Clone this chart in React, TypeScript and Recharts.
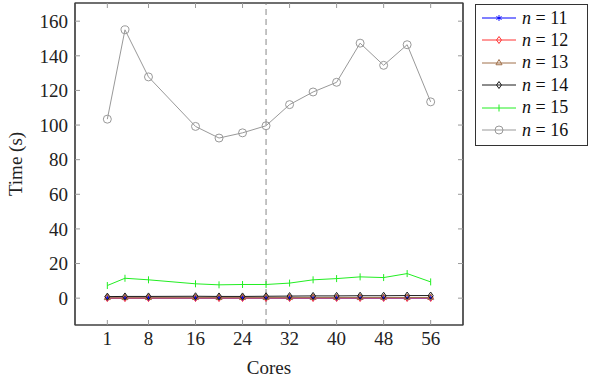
import { LineChart, Line, XAxis, YAxis, ReferenceLine, ReferenceArea } from 'recharts';

const CORES = [1, 4, 8, 16, 20, 24, 28, 32, 36, 40, 44, 48, 52, 56];
const X_TICKS = [1, 8, 16, 24, 32, 40, 48, 56];
const Y_TICKS = [0, 20, 40, 60, 80, 100, 120, 140, 160];

const N11 = [0.01, 0.01, 0.01, 0.02, 0.02, 0.02, 0.02, 0.02, 0.02, 0.03, 0.03, 0.03, 0.03, 0.03];
const N12 = [0.05, 0.05, 0.06, 0.07, 0.07, 0.07, 0.08, 0.08, 0.09, 0.09, 0.1, 0.1, 0.1, 0.11];
const N13 = [0.2, 0.22, 0.23, 0.25, 0.25, 0.26, 0.27, 0.28, 0.3, 0.31, 0.32, 0.33, 0.34, 0.35];
const N14 = [0.9, 1.0, 1.0, 1.1, 1.0, 1.0, 1.1, 1.2, 1.3, 1.3, 1.4, 1.4, 1.5, 1.5];
const N15 = [7.3, 11.5, 10.6, 8.3, 7.7, 7.9, 7.9, 8.7, 10.6, 11.3, 12.3, 11.9, 14.2, 9.4];
const N16 = [103.4, 155, 127.8, 99.2, 92.5, 95.5, 99.6, 111.8, 119.1, 124.7, 147.3, 134.5, 146.4, 113.4];

const X_DOMAIN = [-4.5, 61.5];
const Y_DOMAIN = [-15.5, 170.5];

type Shape = 'star' | 'diamond' | 'triangle' | 'bar' | 'circle';

const SERIES: { key: string; n: string; color: string; shape: Shape; values: number[] }[] = [
  { key: 'n11', n: '11', color: '#0000ff', shape: 'star', values: N11 },
  { key: 'n12', n: '12', color: '#ff3333', shape: 'diamond', values: N12 },
  { key: 'n13', n: '13', color: '#a0704a', shape: 'triangle', values: N13 },
  { key: 'n14', n: '14', color: '#1a1a1a', shape: 'diamond', values: N14 },
  { key: 'n15', n: '15', color: '#22ee22', shape: 'bar', values: N15 },
  { key: 'n16', n: '16', color: '#999999', shape: 'circle', values: N16 },
];

const data = CORES.map((c, i) => {
  const row: Record<string, number> = { cores: c };
  SERIES.forEach((s) => (row[s.key] = s.values[i]));
  return row;
});

const FONT = '"Liberation Serif", "DejaVu Serif", serif';
const FRAME = '#404040';
const TICK = '#9a9a9a';

function Marker({ shape, color, cx, cy }: { shape: Shape; color: string; cx: number; cy: number }) {
  switch (shape) {
    case 'star': {
      const r = 3;
      return (
        <g stroke={color} strokeWidth={0.9}>
          <line x1={cx} y1={cy - r} x2={cx} y2={cy + r} />
          <line x1={cx - r * 0.87} y1={cy - r / 2} x2={cx + r * 0.87} y2={cy + r / 2} />
          <line x1={cx - r * 0.87} y1={cy + r / 2} x2={cx + r * 0.87} y2={cy - r / 2} />
        </g>
      );
    }
    case 'diamond': {
      const r = 3.5;
      return (
        <polygon
          points={`${cx},${cy - r} ${cx + r * 0.7},${cy} ${cx},${cy + r} ${cx - r * 0.7},${cy}`}
          fill="none"
          stroke={color}
          strokeWidth={1}
        />
      );
    }
    case 'triangle': {
      const r = 3.5;
      return (
        <polygon
          points={`${cx},${cy - r} ${cx + r * 0.87},${cy + r / 2} ${cx - r * 0.87},${cy + r / 2}`}
          fill="none"
          stroke={color}
          strokeWidth={1}
        />
      );
    }
    case 'bar':
      return <line x1={cx} y1={cy - 3.5} x2={cx} y2={cy + 3.5} stroke={color} strokeWidth={1} />;
    default:
      return <circle cx={cx} cy={cy} r={4} fill="none" stroke={color} strokeWidth={1} />;
  }
}

function makeDot(shape: Shape, color: string) {
  return (props: any) => {
    const { cx, cy, index } = props;
    if (cx == null || cy == null) return <g key={`d-${index}`} />;
    return (
      <g key={`d-${index}`}>
        <Marker shape={shape} color={color} cx={cx} cy={cy} />
      </g>
    );
  };
}

function LegendBox() {
  return (
    <div
      style={{
        position: 'absolute',
        left: 475,
        top: 4,
        width: 113,
        height: 142,
        border: '1px solid #333',
        background: '#fff',
        boxSizing: 'border-box',
        fontFamily: FONT,
        fontSize: 18,
      }}
    >
      {SERIES.map((s, i) => (
        <div
          key={s.key}
          style={{
            position: 'absolute',
            left: 0,
            top: 2 + i * 22.4,
            height: 22,
            display: 'flex',
            alignItems: 'center',
          }}
        >
          <svg width={45} height={22} style={{ display: 'block' }}>
            <line x1={6} y1={11} x2={40} y2={11} stroke={s.color} strokeWidth={1} />
            <Marker shape={s.shape} color={s.color} cx={23} cy={11} />
          </svg>
          <span style={{ marginLeft: 1, whiteSpace: 'pre', color: '#111' }}>
            <i>n</i> = {s.n}
          </span>
        </div>
      ))}
    </div>
  );
}

export default function App() {
  const tickStyle = { fontFamily: FONT, fontSize: 19, fill: '#222' };
  return (
    <div style={{ position: 'absolute', left: 0, top: 0, width: 589, height: 380, background: '#fff' }}>
      <LineChart width={589} height={380} data={data} margin={{ top: 2, right: 125, bottom: 0, left: 0 }}>
        <XAxis
          xAxisId={0}
          dataKey="cores"
          type="number"
          domain={X_DOMAIN}
          ticks={X_TICKS}
          allowDataOverflow
          height={55}
          axisLine={{ stroke: FRAME, strokeWidth: 1.2 }}
          tickLine={{ stroke: TICK }}
          tickSize={-5}
          tickMargin={12}
          tick={tickStyle}
          label={{ value: 'Cores', position: 'insideBottom', offset: 6, style: { fontFamily: FONT, fontSize: 19, fill: '#222' } }}
        />
        <XAxis
          xAxisId="top"
          orientation="top"
          dataKey="cores"
          type="number"
          domain={X_DOMAIN}
          ticks={X_TICKS}
          allowDataOverflow
          height={1}
          axisLine={{ stroke: FRAME, strokeWidth: 1.2 }}
          tickLine={{ stroke: TICK }}
          tickSize={-5}
          tickFormatter={() => ''}
        />
        <YAxis
          yAxisId={0}
          type="number"
          domain={Y_DOMAIN}
          ticks={Y_TICKS}
          allowDataOverflow
          width={75}
          axisLine={{ stroke: FRAME, strokeWidth: 1.2 }}
          tickLine={{ stroke: TICK }}
          tickSize={-5}
          tickMargin={12}
          tick={tickStyle}
          label={{
            value: 'Time (s)',
            angle: -90,
            position: 'insideLeft',
            offset: 15,
            style: { fontFamily: FONT, fontSize: 19, fill: '#222', textAnchor: 'middle' },
          }}
        />
        <YAxis
          yAxisId="right"
          orientation="right"
          type="number"
          domain={Y_DOMAIN}
          ticks={Y_TICKS}
          allowDataOverflow
          width={1}
          axisLine={{ stroke: FRAME, strokeWidth: 1.2 }}
          tickLine={{ stroke: TICK }}
          tickSize={-5}
          tickFormatter={() => ''}
        />
        <ReferenceArea
          xAxisId={0}
          yAxisId={0}
          x1={X_DOMAIN[0]}
          x2={X_DOMAIN[1]}
          y1={Y_DOMAIN[0]}
          y2={Y_DOMAIN[1]}
          fill="none"
          stroke={FRAME}
          strokeWidth={1.2}
          ifOverflow="visible"
        />
        <ReferenceLine x={28} xAxisId={0} yAxisId={0} stroke="#b0b0b0" strokeWidth={1.5} strokeDasharray="6 4" />
        <Line
          xAxisId="top"
          yAxisId="right"
          dataKey="n16"
          stroke="none"
          dot={false}
          activeDot={false}
          legendType="none"
          isAnimationActive={false}
        />
        {SERIES.map((s) => (
          <Line
            key={s.key}
            xAxisId={0}
            yAxisId={0}
            dataKey={s.key}
            type="linear"
            stroke={s.color}
            strokeWidth={1}
            dot={makeDot(s.shape, s.color)}
            activeDot={false}
            isAnimationActive={false}
          />
        ))}
      </LineChart>
      <LegendBox />
    </div>
  );
}
